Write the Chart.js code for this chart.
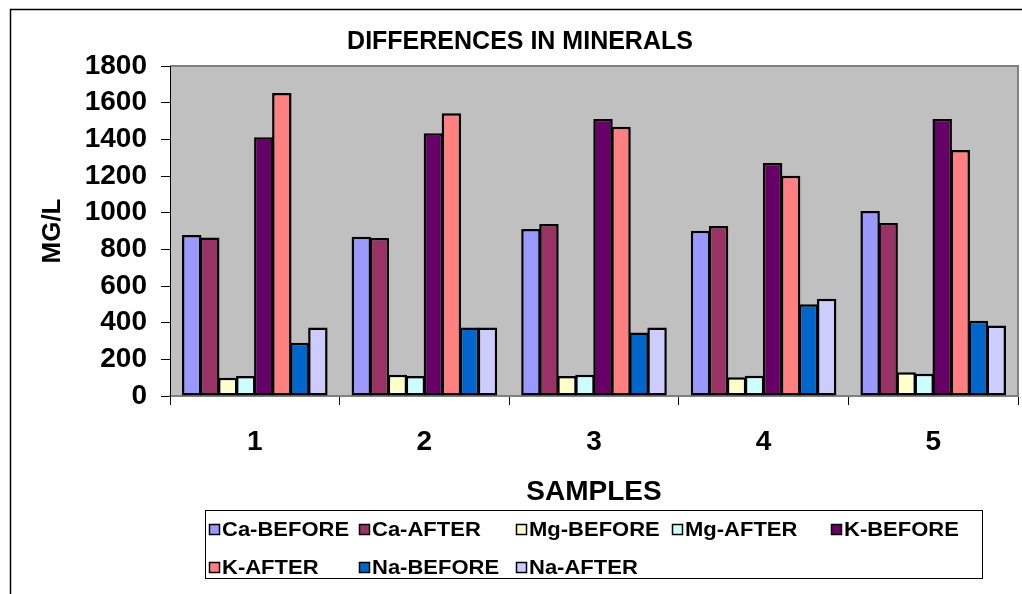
<!DOCTYPE html>
<html>
<head>
<meta charset="utf-8">
<script src="https://cdn.jsdelivr.net/npm/chart.js@4.4.1/dist/chart.umd.min.js"></script>
<style>
  html, body { margin: 0; padding: 0; background: #fff; }
  #wrap { width: 1022px; height: 594px; }
</style>
</head>
<body>
<div id="wrap"><canvas id="mineralsChart"></canvas></div>
<script>
// samples on the x axis
const samples = ['1', '2', '3', '4', '5'];

// MG/L values
const caBefore = [878, 869, 911, 902, 1009];
const caAfter  = [864, 862, 938, 927, 944];
const mgBefore = [100, 116, 109, 102, 129];
const mgAfter  = [109, 109, 116, 111, 122];
const kBefore  = [1411, 1433, 1511, 1271, 1511];
const kAfter   = [1653, 1542, 1469, 1202, 1342];
const naBefore = [291, 373, 347, 500, 411];
const naAfter  = [373, 373, 373, 531, 384];

const seriesLabels = ['Ca-BEFORE', 'Ca-AFTER', 'Mg-BEFORE', 'Mg-AFTER', 'K-BEFORE', 'K-AFTER', 'Na-BEFORE', 'Na-AFTER'];
const seriesColors = ['#9999FF', '#993366', '#FFFFCC', '#CCFFFF', '#660066', '#FF8080', '#0066CC', '#CCCCFF'];
const seriesData = [caBefore, caAfter, mgBefore, mgAfter, kBefore, kAfter, naBefore, naAfter];

const yTicks = [0, 200, 400, 600, 800, 1000, 1200, 1400, 1600, 1800];

Chart.defaults.font.family = '"Liberation Sans", Arial, sans-serif';
Chart.defaults.color = '#000';

// grey plot background, frame and outer chart border
const framePlugin = {
    id: 'frame',
    beforeDraw(chart) {
        const c = chart.ctx, a = chart.chartArea;
        c.save();
        c.fillStyle = '#fff';
        c.fillRect(0, 0, chart.width, chart.height);
        c.fillStyle = '#C0C0C0';
        c.fillRect(a.left, a.top, a.right - a.left, a.bottom - a.top);
        c.strokeStyle = '#808080';
        c.lineWidth = 2;
        c.beginPath();
        c.moveTo(a.left, a.top);
        c.lineTo(a.right, a.top);
        c.lineTo(a.right, a.bottom);
        c.stroke();
        // outer chart border (only left/top visible)
        c.strokeStyle = '#000';
        c.lineWidth = 1.5;
        c.beginPath();
        c.moveTo(10.5, chart.height + 5);
        c.lineTo(10.5, 9.5);
        c.lineTo(chart.width + 5, 9.5);
        c.stroke();
        c.restore();
    }
};

// Excel style boxed legend, items in columns
const boxLegendPlugin = {
    id: 'boxLegend',
    afterDraw(chart) {
        const c = chart.ctx;
        const cols = [209, 359, 516, 672, 831];
        const rows = [529, 567];
        c.save();
        c.strokeStyle = '#000';
        c.lineWidth = 1;
        c.strokeRect(205.5, 510.5, 777, 68);
        c.font = 'bold 20px "Liberation Sans", Arial, sans-serif';
        c.textBaseline = 'middle';
        chart.data.datasets.forEach(function(ds, i) {
            const x = cols[i % 5];
            const y = rows[Math.floor(i / 5)];
            c.fillStyle = ds.backgroundColor;
            c.fillRect(x, y - 5, 11, 11);
            c.lineWidth = 1.5;
            c.strokeRect(x + 0.5, y - 4.5, 10, 10);
            c.fillStyle = '#000';
            c.save();
            c.translate(x + 13, y + 1);
            c.scale(1.1, 1);
            c.fillText(ds.label, 0, 0);
            c.restore();
        });
        c.restore();
    }
};

const ctx = document.getElementById('mineralsChart').getContext('2d');
const myChart = new Chart(ctx, {
    type: 'bar',
    data: {
        labels: samples,
        datasets: seriesLabels.map(function(label, i) {
            return {
                label: label,
                data: seriesData[i],
                backgroundColor: seriesColors[i],
                borderColor: '#000',
                borderWidth: 2.5,
                borderSkipped: false,
                categoryPercentage: 0.85,
                barPercentage: 1.08
            };
        })
    },
    options: {
        responsive: true,
        maintainAspectRatio: false,
        animation: false,
        layout: { padding: { left: 22, right: 4, top: 0, bottom: 0 } },
        plugins: {
            legend: { display: false },
            tooltip: { enabled: false },
            title: {
                display: true,
                text: 'DIFFERENCES IN MINERALS',
                font: { size: 25, weight: 'bold' },
                color: '#000',
                padding: { top: 27, bottom: 9 }
            }
        },
        scales: {
            x: {
                grid: {
                    drawOnChartArea: false,
                    offset: true,
                    tickLength: 9,
                    color: '#000'
                },
                border: { color: '#808080', width: 2 },
                ticks: {
                    font: { size: 28, weight: 'bold' },
                    padding: 20
                },
                title: {
                    display: true,
                    text: 'SAMPLES',
                    font: { size: 28, weight: 'bold' },
                    padding: { top: 0, bottom: 85 }
                },
                afterFit: function(scale) { scale.height = 198; }
            },
            y: {
                min: 0,
                max: 1800,
                afterBuildTicks: function(scale) {
                    scale.ticks = yTicks.map(function(v) { return { value: v }; });
                },
                grid: {
                    drawOnChartArea: false,
                    tickLength: 9,
                    color: '#000'
                },
                border: { color: '#000', width: 1 },
                ticks: {
                    font: { size: 28, weight: 'bold' },
                    padding: 14,
                    callback: function(value) { return String(value); }
                },
                title: {
                    display: true,
                    text: 'MG/L',
                    font: { size: 26, weight: 'bold' },
                    padding: { top: 15, bottom: 0 }
                },
                afterFit: function(scale) { scale.width = 148; }
            }
        }
    },
    plugins: [framePlugin, boxLegendPlugin]
});
</script>
</body>
</html>
